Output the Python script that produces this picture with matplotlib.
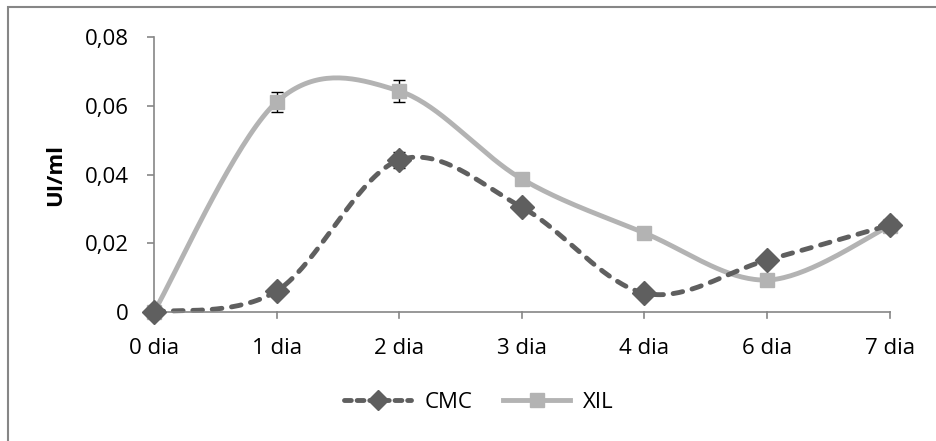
import numpy as np
import matplotlib
matplotlib.use("Agg")
from matplotlib import pyplot as plt
from matplotlib.patches import Rectangle

# data
days = ["0 dia", "1 dia", "2 dia", "3 dia", "4 dia", "6 dia", "7 dia"]
cmc = [0.0, 0.0061, 0.0442, 0.0305, 0.0055, 0.0151, 0.0253]
cmc_err = [0.0, 0.0006, 0.0023, 0.0008, 0.0006, 0.0006, 0.0006]
xil = [0.0, 0.0611, 0.0643, 0.0387, 0.0230, 0.0093, 0.0250]
xil_err = [0.0, 0.0028, 0.0031, 0.0006, 0.0005, 0.0005, 0.0005]

plt.rcParams['font.family'] = ['Open Sans', 'DejaVu Sans']


def smooth(y, n=40):
  # Excel-style smoothed line (cardinal spline through the points)
  x = np.arange(len(y), dtype=float)
  y = np.asarray(y, dtype=float)
  px = np.concatenate([[x[0]], x, [x[-1]]])
  py = np.concatenate([[y[0]], y, [y[-1]]])
  xs, ys = [], []
  t = np.linspace(0, 1, n)
  for i in range(1, len(px) - 2):
    p0 = np.array([px[i], py[i]])
    p3 = np.array([px[i + 1], py[i + 1]])
    c1 = p0 + (np.array([px[i + 1], py[i + 1]]) - np.array([px[i - 1], py[i - 1]])) / 6
    c2 = p3 - (np.array([px[i + 2], py[i + 2]]) - np.array([px[i], py[i]])) / 6
    b = ((1 - t) ** 3)[:, None] * p0 + (3 * (1 - t) ** 2 * t)[:, None] * c1 \
        + (3 * (1 - t) * t ** 2)[:, None] * c2 + (t ** 3)[:, None] * p3
    xs.extend(b[:, 0])
    ys.extend(b[:, 1])
  return np.array(xs), np.array(ys)


fig = plt.figure(figsize=(9.36, 4.41), dpi=100)
ax = fig.add_axes([0.1645, 0.2925, 0.786, 0.6235])

x = np.arange(len(days))
dark = "#5f5f5f"
light = "#b3b3b3"
axis_grey = "#868686"

sx, sy = smooth(xil)
ax.plot(sx, sy, color=light, lw=3.5, solid_capstyle="round", zorder=2, clip_on=False)
ax.errorbar(x, xil, yerr=xil_err, fmt="none", ecolor="black", elinewidth=1, capsize=4, capthick=1, zorder=3)
ax.plot(x, xil, ls="none", marker="s", ms=10.5, color=light, zorder=4, clip_on=False)

sx, sy = smooth(cmc)
ax.plot(sx, sy, color=dark, lw=3.5, ls=(0, (2.0, 2.0)), dash_capstyle="round", zorder=2, clip_on=False)
ax.errorbar(x, cmc, yerr=cmc_err, fmt="none", ecolor="black", elinewidth=1, capsize=4, capthick=1, zorder=3)
ax.plot(x, cmc, ls="none", marker="D", ms=12, color=dark, zorder=4, clip_on=False)

ax.set_xlim(0, len(days) - 1)
ax.set_ylim(0, 0.08)
ax.set_yticks([0, 0.02, 0.04, 0.06, 0.08])
ax.set_yticklabels(["0", "0,02", "0,04", "0,06", "0,08"], fontsize=16)
ax.set_xticks(x)
ax.set_xticklabels(days, fontsize=16)
ax.tick_params(axis="y", colors=axis_grey, labelcolor="black", length=5, width=1.2, pad=13)
ax.tick_params(axis="x", colors=axis_grey, labelcolor="black", length=0, pad=19)
for d in x:
  ax.plot([d, d], [0, -0.0017], color=axis_grey, lw=1.2, clip_on=False, zorder=1)
for s in ["top", "right"]:
  ax.spines[s].set_visible(False)
for s in ["left", "bottom"]:
  ax.spines[s].set_color(axis_grey)
  ax.spines[s].set_linewidth(1.2)

# y axis title
fig.text(56 / 936, 1 - 175 / 441, "UI/ml", rotation=90, ha="center", va="center",
         fontsize=16, fontweight="bold")

# legend
h1, = ax.plot([], [], color=dark, lw=3.5, ls=(0, (1.4, 1.2)), marker="D", ms=10, dash_capstyle="round")
h2, = ax.plot([], [], color=light, lw=3.5, marker="s", ms=10)
fig.legend([h1, h2], ["CMC", "XIL"], loc="center", bbox_to_anchor=(0.512, 0.088), ncol=2,
           frameon=False, fontsize=16, handlelength=3.0, columnspacing=1.4, handletextpad=0.6)

# outer chart border (only left and top edges fall inside the image)
fig.patches.append(Rectangle((8 / 936, -0.1), 1.2, 1.1 - 7 / 441, transform=fig.transFigure,
                             fill=False, edgecolor=axis_grey, lw=1.5))

plt.savefig("out.png", dpi=100)
